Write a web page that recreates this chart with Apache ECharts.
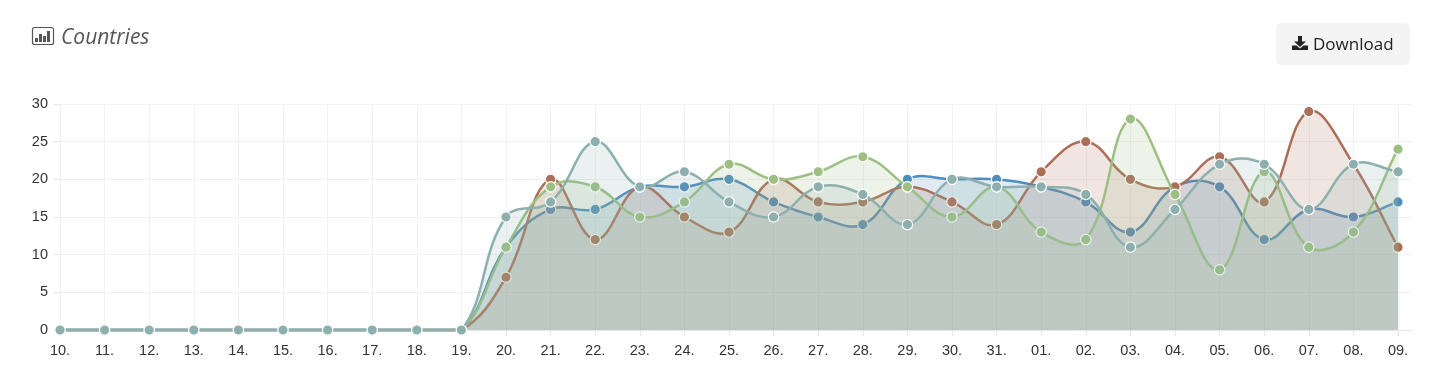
<!DOCTYPE html>
<html>
<head>
<meta charset="utf-8">
<title>Countries</title>
<style>
html, body { margin: 0; padding: 0; background: #fff; }
#chart { width: 1440px; height: 380px; }
</style>
<script src="https://cdn.jsdelivr.net/npm/echarts@6/dist/echarts.min.js"></script>
</head>
<body>
<div id="chart"></div>
<script>
var days = ["10.", "11.", "12.", "13.", "14.", "15.", "16.", "17.", "18.", "19.", "20.", "21.", "22.", "23.", "24.", "25.", "26.", "27.", "28.", "29.", "30.", "31.", "01.", "02.", "03.", "04.", "05.", "06.", "07.", "08.", "09."];
var blueValues = [0, 0, 0, 0, 0, 0, 0, 0, 0, 0, 11, 16, 16, 19, 19, 20, 17, 15, 14, 20, 20, 20, 19, 17, 13, 19, 19, 12, 16, 15, 17];
var brownValues = [0, 0, 0, 0, 0, 0, 0, 0, 0, 0, 7, 20, 12, 19, 15, 13, 20, 17, 17, 19, 17, 14, 21, 25, 20, 19, 23, 17, 29, 22, 11];
var greenValues = [0, 0, 0, 0, 0, 0, 0, 0, 0, 0, 11, 19, 19, 15, 17, 22, 20, 21, 23, 19, 15, 19, 13, 12, 28, 18, 8, 21, 11, 13, 24];
var tealValues = [0, 0, 0, 0, 0, 0, 0, 0, 0, 0, 15, 17, 25, 19, 21, 17, 15, 19, 18, 14, 20, 19, 19, 18, 11, 16, 22, 22, 16, 22, 21];

var labelFont = '"Liberation Sans", Arial, sans-serif';
var gridColor = "#f1f1f1";
var tension = 0.4;

// line series clamps its control points and flattens the peaks, so build the curve here
function curvePath(values, api) {
    var pts = values.map(function (v, i) { return api.coord([i, v]); });
    var base = api.coord([0, 0])[1];
    var top = api.coord([0, 30])[1];
    var clampY = function (y) { return Math.max(top, Math.min(base, y)); };
    var d = "M" + pts[0][0] + " " + pts[0][1];
    var out = pts[0];
    for (var i = 1; i < pts.length; i++) {
        var cur = pts[i], prev = pts[i - 1], next = pts[i + 1] || cur;
        var d01 = Math.hypot(cur[0] - prev[0], cur[1] - prev[1]);
        var d12 = Math.hypot(next[0] - cur[0], next[1] - cur[1]);
        var fa = d01 + d12 ? tension * d01 / (d01 + d12) : 0;
        var fb = d01 + d12 ? tension * d12 / (d01 + d12) : 0;
        d += "C" + out[0] + " " + clampY(out[1]) + " " +
            (cur[0] - fa * (next[0] - prev[0])) + " " + clampY(cur[1] - fa * (next[1] - prev[1])) + " " +
            cur[0] + " " + cur[1];
        out = [cur[0] + fb * (next[0] - prev[0]), cur[1] + fb * (next[1] - prev[1])];
    }
    return { line: d, area: d + "L" + pts[pts.length - 1][0] + " " + base + "L" + pts[0][0] + " " + base + "Z" };
}

function curve(name, values, color, z) {
    return {
        name: name,
        type: "custom",
        z: z,
        clip: false,
        data: values.map(function (v, i) { return [i, v]; }),
        encode: { x: 0, y: 1 },
        renderItem: function (params, api) {
            var p = api.coord([api.value(0), api.value(1)]);
            var children = [{
                type: "circle",
                z2: 3,
                shape: { cx: p[0], cy: p[1], r: 5.2 },
                style: { fill: color, stroke: "#fff", lineWidth: 1.2 }
            }];
            if (params.dataIndex === 0) {
                var path = curvePath(values, api);
                children.push({ type: "path", z2: 1, shape: { pathData: path.area }, style: { fill: color, opacity: 0.18 } });
                children.push({ type: "path", z2: 2, shape: { pathData: path.line }, style: { fill: "none", stroke: color, lineWidth: 2.5 } });
            }
            return { type: "group", children: children };
        }
    };
}

var chart = echarts.init(document.getElementById("chart"), null, { renderer: "canvas" });
chart.setOption({
    animation: false,
    backgroundColor: "#fff",
    grid: [
        { left: 60, right: 42, top: 104, bottom: 50 },
        { left: 60, right: 28, top: 104, bottom: 50 }
    ],
    xAxis: [{
        type: "category",
        data: days,
        boundaryGap: false,
        axisLine: { show: false },
        axisTick: { show: true, length: 6, lineStyle: { color: "#e6e6e6" } },
        axisLabel: { interval: 0, color: "#333", fontFamily: labelFont, fontSize: 14.5, margin: 13 },
        splitLine: { show: true, interval: 0, lineStyle: { color: gridColor, width: 1 } }
    }, {
        gridIndex: 1,
        type: "value",
        min: 0,
        max: 1,
        axisLine: { show: true, lineStyle: { color: "#e6e6e6", width: 1 } },
        axisTick: { show: false },
        axisLabel: { show: false },
        splitLine: { show: false }
    }],
    yAxis: [{
        type: "value",
        min: 0,
        max: 30,
        interval: 5,
        axisLine: { show: false },
        axisTick: { show: true, length: 6, lineStyle: { color: "#e6e6e6" } },
        axisLabel: { color: "#333", fontFamily: labelFont, fontSize: 14.5, margin: 12, padding: [3, 0, 0, 0] },
        splitLine: { show: false }
    }, {
        gridIndex: 1,
        type: "value",
        min: 0,
        max: 30,
        interval: 5,
        axisLine: { show: false },
        axisTick: { show: false },
        axisLabel: { show: false },
        splitLine: { show: true, lineStyle: { color: gridColor, width: 1 } }
    }],
    series: [
        curve("Blue", blueValues, "#4f8dbf", 2),
        curve("Brown", brownValues, "#ab6e58", 3),
        curve("Green", greenValues, "#9dbf84", 4),
        curve("Teal", tealValues, "#8db0ae", 5)
    ],
    graphic: [
        // title icon
        { type: "rect", shape: { x: 32.5, y: 27.5, width: 21, height: 17, r: 2 }, style: { fill: "none", stroke: "#555", lineWidth: 1.2 } },
        { type: "rect", shape: { x: 35, y: 38, width: 3, height: 4 }, style: { fill: "#555" } },
        { type: "rect", shape: { x: 39, y: 34, width: 3, height: 8 }, style: { fill: "#555" } },
        { type: "rect", shape: { x: 43, y: 36, width: 3, height: 6 }, style: { fill: "#555" } },
        { type: "rect", shape: { x: 47, y: 31, width: 3, height: 11 }, style: { fill: "#555" } },
        { type: "text", x: 61, y: 28, style: { text: "Countries", fill: "#555", font: 'italic 21px "Open Sans", sans-serif' } },
        // download button
        { type: "rect", shape: { x: 1276, y: 23, width: 134, height: 42, r: 5 }, style: { fill: "#f4f4f4" } },
        { type: "polygon", shape: { points: [[1298, 36], [1302, 36], [1302, 41.5], [1306, 41.5], [1300, 47], [1294, 41.5], [1298, 41.5]] }, style: { fill: "#222" } },
        { type: "polygon", shape: { points: [[1292, 45.5], [1296.5, 45.5], [1300, 48.5], [1303.5, 45.5], [1308, 45.5], [1308, 50], [1292, 50]] }, style: { fill: "#222" } },
        { type: "text", x: 1313, y: 37, style: { text: "Download", fill: "#222", font: '17px "Open Sans", sans-serif' } }
    ]
});
</script>
</body>
</html>
